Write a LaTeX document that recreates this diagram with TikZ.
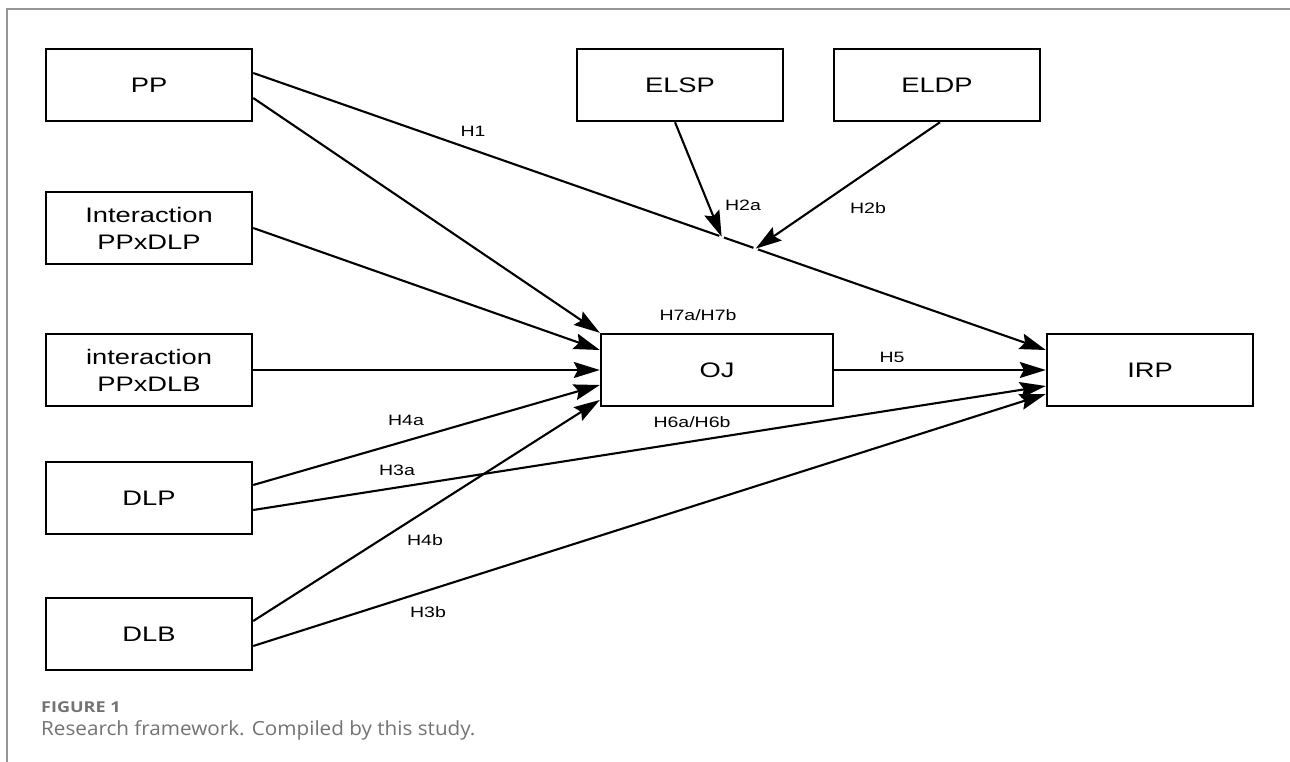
\documentclass[tikz,border=0pt]{standalone}
\usepackage{fontspec}
\setmainfont[FakeStretch=1.3]{Liberation Sans}
\newfontfamily\capfont[FakeStretch=1.06]{Open Sans}
\newfontfamily\capfontwide[FakeStretch=1.2]{Open Sans}
\usetikzlibrary{arrows.meta,calc}
\definecolor{framegray}{RGB}{150,150,150}
\definecolor{capgray}{RGB}{115,115,115}
\tikzset{
  var/.style={draw, line width=2.4pt, minimum width=206pt, minimum height=72pt,
    align=center, font=\fontsize{21}{27}\selectfont},
  link/.style={line width=2.1pt, -{Stealth[length=26pt,width=16pt,inset=4pt]}},
  hyp/.style={font=\fontsize{15}{18}\selectfont, inner sep=0pt}
}
\begin{document}
\begin{tikzpicture}[x=1pt,y=-1pt]
\useasboundingbox (0,0) rectangle (1290,762);
\draw[framegray, line width=1.2pt] (7,762) -- (7,9) -- (1290,9);

\node[var] (pp) at (149,85) {PP};
\node[var] (ppdlp) at (149,228) {Interaction\\PPxDLP};
\node[var] (ppdlb) at (149,370) {interaction\\PPxDLB};
\node[var] (dlp) at (149,498) {DLP};
\node[var] (dlb) at (149,634) {DLB};
\node[var] (elsp) at (680,85) {ELSP};
\node[var] (eldp) at (937,85) {ELDP};
\node[var, minimum width=232pt] (oj) at (717,370) {OJ};
\node[var] (irp) at (1150,370) {IRP};

\draw[link] ([yshift=12pt]pp.east) -- ([yshift=20pt]irp.west)
  coordinate[pos=0.591] (h2a) coordinate[pos=0.634] (h2b);
\fill[white] (h2a) circle (2.5pt);
\fill[white] (h2b) circle (2.5pt);
\draw[link] ([xshift=-5pt]elsp.south) -- (h2a);
\draw[link] ([xshift=3pt]eldp.south) -- (h2b);

\draw[link] ([yshift=-13pt]pp.east) -- (oj.north west);
\draw[link] (ppdlp.east) -- ([yshift=20pt]oj.west);
\draw[link] (ppdlb.east) -- (oj.west);
\draw[link] ([yshift=13pt]dlp.east) -- ([yshift=-15pt]oj.west);
\draw[link] ([yshift=-12pt]dlp.east) -- ([yshift=-16pt]irp.west);
\draw[link] ([yshift=13pt]dlb.east) -- ([yshift=-30pt]oj.west);
\draw[link] ([yshift=-12pt]dlb.east) -- ([yshift=-24pt]irp.west);
\draw[link] (oj) -- (irp);

\node[hyp] (lh1) at (473,131) {H1};
\node[hyp] (lh2a) at (743,205) {H2a};
\node[hyp] (lh2b) at (868,208) {H2b};
\node[hyp] (lh7) at (698,315) {H7a/H7b};
\node[hyp] (lh5) at (892,357) {H5};
\node[hyp] (lh6) at (692,422) {H6a/H6b};
\node[hyp] (lh4a) at (406,420) {H4a};
\node[hyp] (lh3a) at (397,470) {H3a};
\node[hyp] (lh4b) at (425,540) {H4b};
\node[hyp] (lh3b) at (428,612) {H3b};

\node[anchor=base west, inner sep=0pt, text=capgray, font=\capfontwide\bfseries\fontsize{15}{17}\selectfont] (figno) at (41,712) {FIGURE 1};
\node[anchor=base west, inner sep=0pt, text=capgray, font=\capfont\fontsize{19.5}{22}\selectfont] (figcap) at (41,735) {Research framework. Compiled by this study.};
\end{tikzpicture}
\end{document}
